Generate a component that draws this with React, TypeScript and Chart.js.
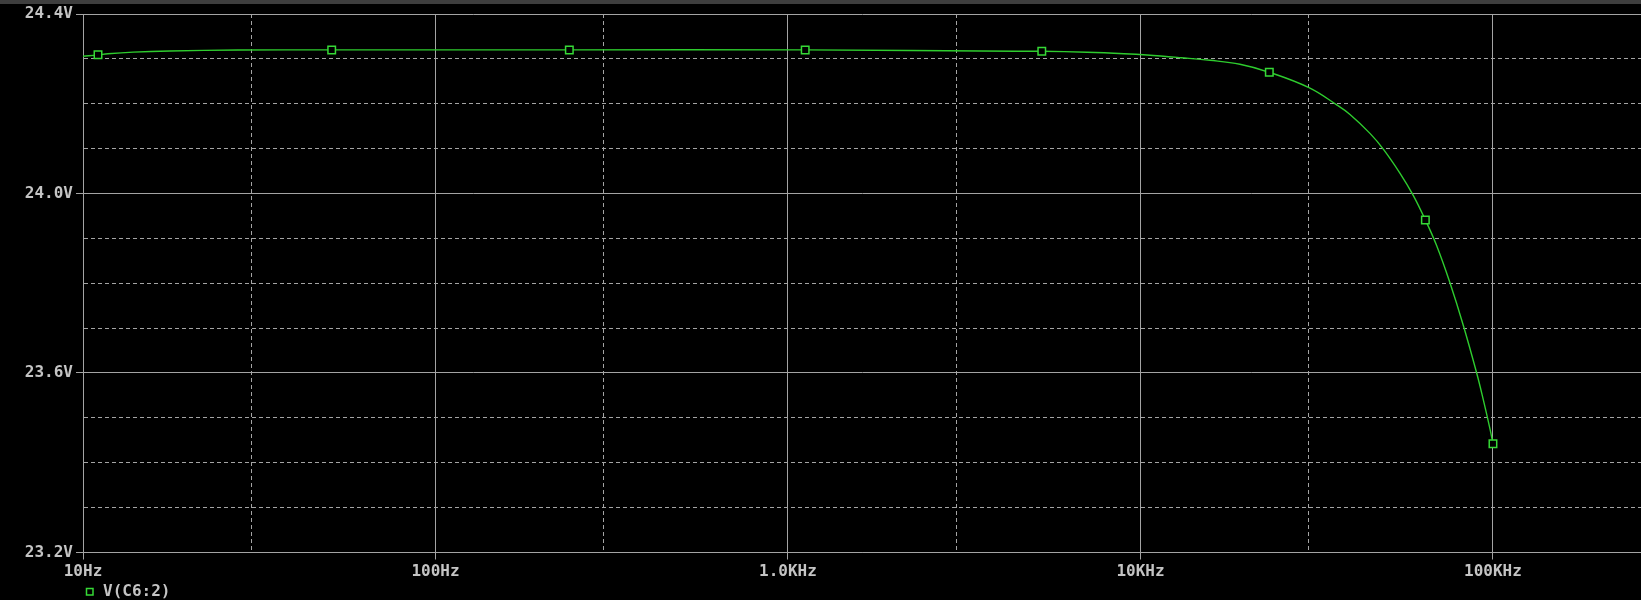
import { useEffect, useRef } from 'react';
import { Chart, registerables } from 'chart.js';

Chart.register(...registerables);

// ---- data ----
const seriesName = 'V(C6:2)';

const curveFreq = [
  10, 11.03, 11.77, 13.87, 17.65, 27.5, 50.76, 239.7, 1119, 4446, 5248, 7047, 8974,
  10430, 13030, 15740, 19150, 23200, 30060, 36030, 39300, 44770, 48850, 54500, 59400,
  64300, 69200, 75500, 82400, 89900, 93900, 98100, 100000,
];
const curveVolt = [
  24.306, 24.309, 24.3115, 24.315, 24.3176, 24.3198, 24.32, 24.32, 24.32, 24.3171, 24.317,
  24.3147, 24.3115, 24.3086, 24.3026, 24.2968, 24.2879, 24.2701, 24.2358, 24.1975, 24.176,
  24.134, 24.099, 24.045, 23.996, 23.941, 23.884, 23.801, 23.706, 23.6, 23.54,
  23.475, 23.4425,
];

const markerFreq = [11.03, 50.76, 239.7, 1119, 5248, 23200, 64300, 100000];
const markerVolt = [24.309, 24.32, 24.32, 24.32, 24.317, 24.2701, 23.941, 23.4425];

const xTicks = [10, 30, 100, 300, 1000, 3000, 10000, 30000, 100000];
const xTickLabels = ['10Hz', '', '100Hz', '', '1.0KHz', '', '10KHz', '', '100KHz'];
const yTicks = [23.2, 23.3, 23.4, 23.5, 23.6, 23.7, 23.8, 23.9, 24.0, 24.1, 24.2, 24.3, 24.4];
const yTickLabels = ['23.2V', '', '', '', '23.6V', '', '', '', '24.0V', '', '', '', '24.4V'];

// ---- styles ----
const LINE = '#2ecc2e';
const MARK = '#36d936';
const GRID = '#a4a4a4';
const TEXT = '#c4c4c4';
const FONT = { family: '"DejaVu Sans Mono", monospace', size: 16, weight: 'bold' as const };
const DASH = [4, 3];

const bgPlugin = {
  id: 'bg',
  beforeDraw(chart: any) {
    const { ctx, width, height } = chart;
    ctx.save();
    ctx.fillStyle = '#000';
    ctx.fillRect(0, 0, width, height);
    ctx.fillStyle = '#3e3e3e';
    ctx.fillRect(0, 0, width, 4);
    ctx.restore();
  },
  afterDraw(chart: any) {
    const { ctx } = chart;
    const left = chart.chartArea.left;
    ctx.save();
    ctx.strokeStyle = MARK;
    ctx.lineWidth = 1.5;
    ctx.strokeRect(left + 3.5, 588.5, 6.5, 6.5);
    ctx.fillStyle = TEXT;
    ctx.font = `bold 16px "DejaVu Sans Mono", monospace`;
    ctx.textBaseline = 'middle';
    ctx.textAlign = 'left';
    ctx.fillText(seriesName, left + 20, 591.5);
    ctx.restore();
  },
};

export default function App() {
  const ref = useRef<HTMLCanvasElement>(null);

  useEffect(() => {
    const canvas = ref.current;
    if (!canvas) return;
    const chart = new Chart(canvas, {
      type: 'line',
      data: {
        datasets: [
          {
            label: seriesName,
            data: markerFreq.map((f, i) => ({ x: f, y: markerVolt[i] })),
            showLine: false,
            pointStyle: 'rect',
            pointRadius: 5.3,
            pointBorderWidth: 1.5,
            pointBorderColor: MARK,
            pointBackgroundColor: '#000',
            order: 0,
          },
          {
            label: 'curve',
            data: curveFreq.map((f, i) => ({ x: f, y: curveVolt[i] })),
            borderColor: LINE,
            borderWidth: 1.4,
            pointRadius: 0,
            tension: 0.4,
            order: 1,
          },
        ],
      },
      options: {
        animation: false,
        responsive: false,
        devicePixelRatio: 1,
        events: [],
        layout: { autoPadding: false, padding: { top: 14, left: 0, right: 0, bottom: 0 } },
        plugins: { legend: { display: false }, tooltip: { enabled: false } },
        scales: {
          x: {
            type: 'logarithmic',
            min: 10,
            max: 263000,
            afterBuildTicks: (s: any) => {
              s.ticks = xTicks.map((v) => ({ value: v }));
            },
            afterFit: (s: any) => {
              s.height = 47.5;
              s.paddingLeft = 0;
              s.paddingRight = 0;
            },
            ticks: {
              autoSkip: false,
              maxRotation: 0,
              minRotation: 0,
              color: TEXT,
              font: FONT,
              padding: 3,
              callback: (_v: any, i: number) => xTickLabels[i],
            },
            grid: {
              color: GRID,
              lineWidth: 1,
              tickLength: 7,
              tickColor: (c: any) => (xTickLabels[c.index] ? GRID : 'rgba(0,0,0,0)'),
            },
            border: {
              color: GRID,
              width: 1,
              dash: (c: any) => (c.type === 'tick' && !xTickLabels[c.index] ? DASH : []),
            },
          },
          y: {
            type: 'linear',
            min: 23.2,
            max: 24.4,
            afterBuildTicks: (s: any) => {
              s.ticks = yTicks.map((v) => ({ value: v }));
            },
            afterFit: (s: any) => {
              s.width = 83;
            },
            ticks: {
              autoSkip: false,
              color: TEXT,
              font: FONT,
              padding: 3,
              callback: (_v: any, i: number) => yTickLabels[i],
            },
            grid: {
              color: GRID,
              lineWidth: 1,
              tickLength: 7,
              tickColor: (c: any) => (yTickLabels[c.index] ? GRID : 'rgba(0,0,0,0)'),
            },
            border: {
              color: GRID,
              width: 1,
              dash: (c: any) => (c.type === 'tick' && !yTickLabels[c.index] ? DASH : []),
            },
          },
        },
      },
      plugins: [bgPlugin],
    } as any);
    return () => chart.destroy();
  }, []);

  return (
    <div style={{ position: 'absolute', left: 0, top: 0, width: 1641, height: 600, background: '#000' }}>
      <canvas ref={ref} width={1641} height={600} style={{ display: 'block', width: 1641, height: 600 }} />
    </div>
  );
}
